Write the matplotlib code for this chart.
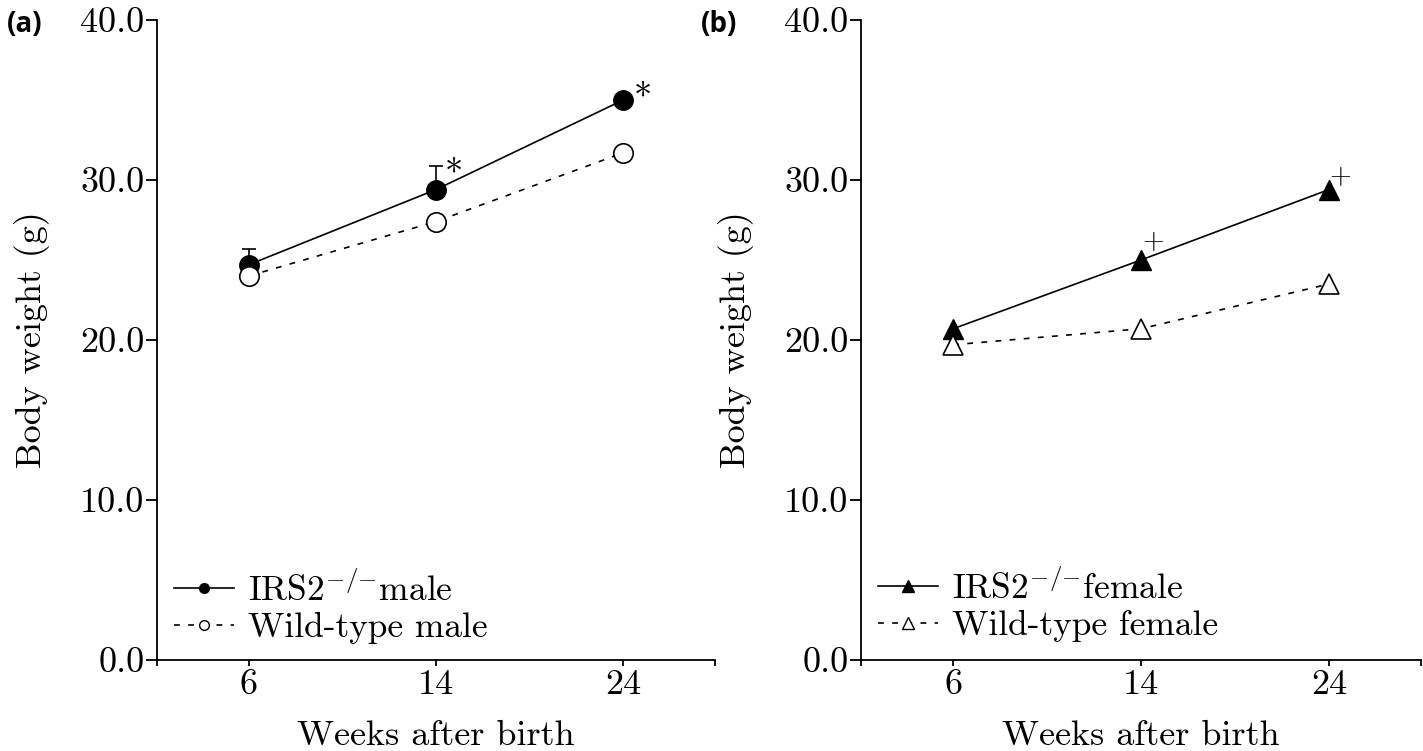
import matplotlib.pyplot as plt
from matplotlib.lines import Line2D
from matplotlib.ticker import FixedLocator, FormatStrFormatter

# weeks after birth (plotted as evenly spaced categories)
weeks = ["6", "14", "24"]

# panel (a): males
irs2_male = [24.7, 29.4, 35.0]
irs2_male_err = [1.0, 1.5, 0.3]
wt_male = [24.0, 27.4, 31.7]
male_marks = ["", "*", "*"]

# panel (b): females
irs2_female = [20.7, 25.0, 29.4]
wt_female = [19.7, 20.7, 23.5]
female_marks = ["", "+", "+"]

plt.rcParams["font.family"] = ["cmr10", "DejaVu Serif"]
plt.rcParams["mathtext.fontset"] = "cm"
plt.rcParams["axes.unicode_minus"] = False
plt.rcParams["axes.formatter.use_mathtext"] = True

FS = 26
DASH = (0, (3.5, 5))


def setup_axes(ax):
    xs = list(range(len(weeks)))
    ax.set_xlim(-0.49, 2.49)
    ax.set_ylim(0, 40)
    ax.set_xticks(xs)
    ax.set_xticklabels(weeks)
    ax.xaxis.set_minor_locator(FixedLocator([-0.49, 2.49]))
    ax.set_yticks([0, 10, 20, 30, 40])
    ax.yaxis.set_major_formatter(FormatStrFormatter("%.1f"))
    for s in ["top", "right"]:
        ax.spines[s].set_visible(False)
    for s in ["left", "bottom"]:
        ax.spines[s].set_linewidth(1.3)
    ax.tick_params(axis="y", direction="out", length=8, width=1.3, pad=1, labelsize=FS)
    ax.tick_params(axis="x", which="major", direction="out", length=4, width=1.3, pad=3, labelsize=FS)
    ax.tick_params(axis="x", which="minor", direction="out", length=4, width=1.3)
    ax.set_xlabel("Weeks after birth", fontsize=FS, labelpad=14)
    ax.set_ylabel("Body weight (g)", fontsize=FS, labelpad=22)
    ax.patch.set_alpha(0)


def add_legend(ax, handles, labels, y0):
    ax.legend(handles, labels, loc="lower left", bbox_to_anchor=(0.03, y0), frameon=False,
              fontsize=25.5, handlelength=1.7, handletextpad=0.4, labelspacing=0.12,
              borderpad=0, borderaxespad=0)


fig = plt.figure(figsize=(14.23, 7.51), dpi=100)
ax1 = fig.add_axes([0.1103, 0.1212, 0.3922, 0.8522])
ax2 = fig.add_axes([0.6051, 0.1212, 0.3935, 0.8522])
xs = list(range(len(weeks)))

# (a) males
ax1.errorbar(xs, irs2_male, yerr=[[0] * 3, irs2_male_err], color="black", lw=1.2,
             marker="o", markersize=14, mfc="black", mec="black",
             capsize=5, elinewidth=1.2, capthick=1.2, zorder=3)
ax1.plot(xs, wt_male, color="black", lw=1.2, ls=DASH, marker="o", markersize=14,
         mfc="white", mec="black", mew=1.2, zorder=4)
for x, y, m in zip(xs, irs2_male, male_marks):
    if m:
        off = (13, 11) if x == 1 else (14, 1)
        ax1.annotate(m, (x, y), xytext=off, textcoords="offset points",
                     ha="center", va="center", fontsize=FS)
setup_axes(ax1)
h1 = [Line2D([], [], color="black", lw=1.2, marker="o", markersize=7, mfc="black"),
      Line2D([], [], color="black", lw=1.2, ls=DASH, marker="o", markersize=7, mfc="white")]
add_legend(ax1, h1, [r"IRS2$^{{-}/{-}}$male", "Wild-type male"], 0.025)

# (b) females
ax2.plot(xs, irs2_female, color="black", lw=1.2, marker="^", markersize=15,
         mfc="black", mec="black", zorder=3)
ax2.plot(xs, wt_female, color="black", lw=1.2, ls=DASH, marker="^", markersize=15,
         mfc="white", mec="black", mew=1.2, zorder=4)
for x, y, m in zip(xs, irs2_female, female_marks):
    if m:
        off = (9, 13) if x == 1 else (8, 9)
        ax2.annotate(m, (x, y), xytext=off, textcoords="offset points",
                     ha="center", va="center", fontsize=20)
setup_axes(ax2)
h2 = [Line2D([], [], color="black", lw=1.2, marker="^", markersize=8, mfc="black"),
      Line2D([], [], color="black", lw=1.2, ls=DASH, marker="^", markersize=8, mfc="white")]
add_legend(ax2, h2, [r"IRS2$^{{-}/{-}}$female", "Wild-type female"], 0.028)

fig.text(0.017, 0.967, "(a)", fontsize=20, fontweight="bold", family="Open Sans",
         ha="center", va="center")
fig.text(0.505, 0.967, "(b)", fontsize=20, fontweight="bold", family="Open Sans",
         ha="center", va="center")

fig.savefig("out.png", dpi=100)
